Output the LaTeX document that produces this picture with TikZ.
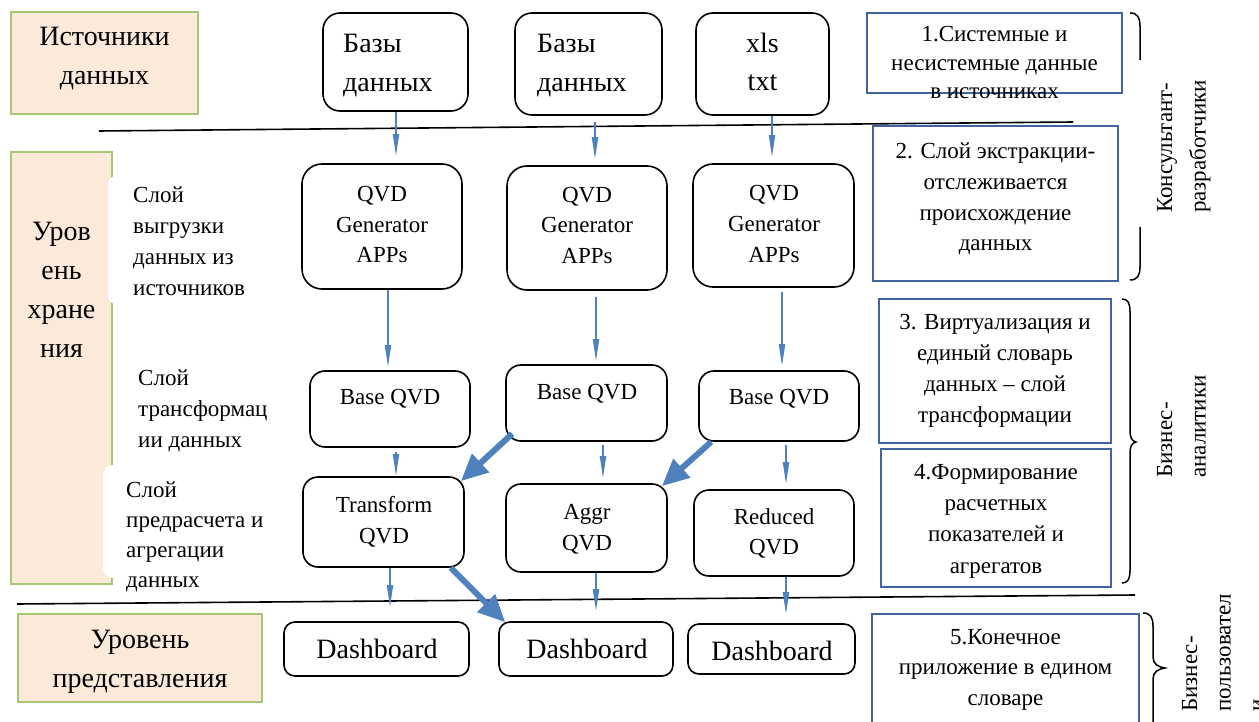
\documentclass[tikz,border=0pt]{standalone}
\usepackage{fontspec}
\setmainfont{Liberation Serif}
\usetikzlibrary{arrows.meta}
\definecolor{arrblue}{RGB}{79,129,189}
\definecolor{frameblue}{RGB}{65,100,160}
\definecolor{beige}{RGB}{251,233,218}
\definecolor{leafgreen}{RGB}{165,198,115}
\newcommand\fbig{\fontsize{28}{39}\selectfont}
\newcommand\fsmall{\fontsize{23}{31}\selectfont}
\begin{document}
\begin{tikzpicture}[x=1pt,y=-1pt,
  box/.style={draw=black, line width=1.6pt, rounded corners=#1, inner sep=0pt},
  box/.default=15pt,
  lvl/.style={draw=leafgreen, fill=beige, line width=1.8pt, inner sep=0pt},
  note/.style={draw=frameblue, line width=1.4pt, inner sep=0pt},
  bigtxt/.style={font=\fbig, align=center, inner sep=0pt, anchor=base},
  smalltxt/.style={font=\fsmall, align=center, inner sep=0pt, anchor=base},
  layertxt/.style={font=\fsmall, align=left, inner sep=0pt, anchor=base west},
  sidetxt/.style={font=\fontsize{23}{33.5}\selectfont, align=left, inner sep=0pt, anchor=base west, rotate=90},
  thinarr/.style={draw=arrblue, line width=1.8pt, -{Triangle[length=22pt,width=6pt]}},
  thickarr/.style={draw=arrblue, line width=6pt, -{Triangle[length=27pt,width=24pt]}},
  sepline/.style={draw=black, line width=1.6pt},
  brace/.style={draw=black, line width=1.5pt}
]
\useasboundingbox (0,0) rectangle (1259,722);
\clip (0,0) rectangle (1259,722);
\fill[white] (0,0) rectangle (1259,722);

% left level boxes
\node[lvl, minimum width=187pt, minimum height=102pt] (S1) at (104.5,63) {};
\node[lvl, minimum width=101pt, minimum height=432pt] (S2) at (61.5,368) {};
\node[lvl, minimum width=244pt, minimum height=88pt] (S3) at (140,658) {};
\fill[white, rounded corners=10pt] (108,175) rectangle (290,305);
\fill[white, rounded corners=10pt] (103,465) rectangle (290,578);

% (anchor = baseline of the last line)
\node[bigtxt] (tS1) at (104.5,85) {Источники\\данных};
\node[bigtxt] (tS2) at (61.5,357) {Уров\\ень\\хране\\ния};
\node[bigtxt] (tS3) at (140,687) {Уровень\\представления};

\node[layertxt] (L1) at (133,295) {Слой\\выгрузки\\данных из\\источников};
\node[layertxt] (L2) at (138,447) {Слой\\трансформац\\ии данных};
\node[layertxt, font=\fontsize{23}{30}\selectfont] (L3) at (126,587) {Слой\\предрасчета и\\агрегации\\данных};

% separators
\coordinate (s1a) at (99,131);
\coordinate (s1b) at (1073,122);
\coordinate (s2a) at (17,604);
\coordinate (s2b) at (1135,595);
\draw[sepline] (s1a) -- (s1b);
\draw[sepline] (s2a) -- (s2b);

% flow boxes
\node[box=17pt, minimum width=145pt, minimum height=98pt] (A1) at (395.5,62) {};
\node[box=17pt, minimum width=147pt, minimum height=102pt] (A2) at (588.5,64) {};
\node[box=17pt, minimum width=133pt, minimum height=102pt] (A3) at (762.5,64) {};
\node[box=20pt, minimum width=160pt, minimum height=125pt] (G1) at (382,226.5) {};
\node[box=20pt, minimum width=160pt, minimum height=124pt] (G2) at (587,228) {};
\node[box=20pt, minimum width=161pt, minimum height=123pt] (G3) at (773.5,225.5) {};
\node[box=15pt, minimum width=160pt, minimum height=76pt] (B1) at (390,409) {};
\node[box=15pt, minimum width=161pt, minimum height=76pt] (B2) at (586.5,403) {};
\node[box=15pt, minimum width=160pt, minimum height=70pt] (B3) at (779,406) {};
\node[box=15pt, minimum width=161pt, minimum height=90pt] (T1) at (383.5,522) {};
\node[box=15pt, minimum width=161pt, minimum height=88pt] (T2) at (586.5,528) {};
\node[box=15pt, minimum width=160pt, minimum height=86pt] (T3) at (774,533) {};
\node[box=11pt, minimum width=185pt, minimum height=54pt] (D1) at (376.5,649) {};
\node[box=11pt, minimum width=174pt, minimum height=54pt] (D2) at (586,649) {};
\node[box=11pt, minimum width=167pt, minimum height=50pt] (D3) at (771.5,649) {};

\node[layertxt, font=\fbig] (tA1) at (343,92) {Базы\\данных};
\node[layertxt, font=\fbig] (tA2) at (537,92) {Базы\\данных};
\node[bigtxt, font=\fontsize{28}{38}\selectfont] (tA3) at (762.5,91) {xls\\txt};
\node[smalltxt] (tG1) at (382,263) {QVD\\Generator\\APPs};
\node[smalltxt] (tG2) at (587,264) {QVD\\Generator\\APPs};
\node[smalltxt] (tG3) at (774,262) {QVD\\Generator\\APPs};
\node[smalltxt] (tB1) at (390,404) {Base QVD};
\node[smalltxt] (tB2) at (587,399) {Base QVD};
\node[smalltxt] (tB3) at (779,404) {Base QVD};
\node[smalltxt] (tT1) at (384,543) {Transform\\QVD};
\node[smalltxt] (tT2) at (587,550) {Aggr\\QVD};
\node[smalltxt, font=\fontsize{23}{30}\selectfont] (tT3) at (774,554) {Reduced\\QVD};
\node[bigtxt] (tD1) at (377,658) {Dashboard};
\node[bigtxt] (tD2) at (587,658) {Dashboard};
\node[bigtxt] (tD3) at (772,660) {Dashboard};

% right notes
\node[note, minimum width=255pt, minimum height=80pt] (R1) at (994.5,53) {};
\node[note, minimum width=245pt, minimum height=155pt] (R2) at (995.5,203.5) {};
\node[note, minimum width=232pt, minimum height=144pt] (R3) at (995,371) {};
\node[note, minimum width=230pt, minimum height=138pt] (R4) at (996,518) {};
\node[note, minimum width=267pt, minimum height=116pt] (R5) at (1005.5,672) {};

\node[smalltxt, font=\fontsize{23}{28.5}\selectfont] (tR1) at (994.5,99) {1.Системные и\\несистемные данные\\в источниках};
\node[smalltxt, font=\fontsize{23}{30.7}\selectfont] (tR2) at (995.5,251) {2. Слой экстракции-\\отслеживается\\происхождение\\данных};
\node[smalltxt] (tR3) at (995,422) {3. Виртуализация и\\единый словарь\\данных – слой\\трансформации};
\node[smalltxt, font=\fontsize{23}{31.3}\selectfont] (tR4) at (996,573) {4.Формирование\\расчетных\\показателей и\\агрегатов};
\node[smalltxt, font=\fontsize{23}{30.5}\selectfont] (tR5) at (1005.5,705) {5.Конечное\\приложение в едином\\словаре};

% braces
\draw[brace] (1130,13) .. controls (1137,13) and (1140,17) .. (1140,26) -- (1140,60);
\draw[brace] (1140,227) -- (1140,267) .. controls (1140,276) and (1137,280) .. (1130,280);
\draw[brace] (1122,299) .. controls (1128,299) and (1130,303) .. (1130,312) -- (1130,431)
  .. controls (1130,438) and (1132,441) .. (1136,442)
  .. controls (1132,443) and (1130,446) .. (1130,453) -- (1130,570)
  .. controls (1130,579) and (1128,583) .. (1122,583);
\draw[brace] (1143,613) .. controls (1150,613) and (1153,617) .. (1153,626) -- (1153,657)
  .. controls (1153,664) and (1158,667) .. (1165,668)
  .. controls (1158,669) and (1153,672) .. (1153,679) -- (1153,722);

\node[sidetxt] (K) at (1205.5,213) {Консультант-\\разработчики};
\node[sidetxt] (BA) at (1205.5,478) {Бизнес-\\аналитики};
\node[sidetxt] (BP) at (1264,712) {Бизнес-\\пользовател\\и};

% arrow x positions
\coordinate (x1) at (396,0);
\coordinate (x2) at (595,0);
\coordinate (x3) at (772,0);
\coordinate (x4) at (388,0);
\coordinate (x5) at (596,0);
\coordinate (x6) at (782,0);
\coordinate (x7) at (396,0);
\coordinate (x8) at (603,0);
\coordinate (x9) at (786,0);
\coordinate (x10) at (390,0);

\draw[thinarr, shorten >=7pt] (A1.south -| x1) -- (G1.north -| x1);
\draw[thinarr, shorten <=6pt, shorten >=6pt] (A2.south -| x2) -- (G2.north -| x2);
\draw[thinarr, shorten >=6pt] (A3.south -| x3) -- (G3.north -| x3);
\draw[thinarr, shorten >=3pt] (G1.south -| x4) -- (B1.north -| x4);
\draw[thinarr, shorten <=6pt, shorten >=3pt] (G2.south -| x5) -- (B2.north -| x5);
\draw[thinarr, shorten <=4pt, shorten >=4pt] (G3.south -| x6) -- (B3.north -| x6);
\draw[thinarr, shorten <=4pt] (B1.south -| x7) -- (T1.north -| x7);
\draw[thinarr, shorten <=3pt, shorten >=5pt] (B2.south -| x8) -- (T2.north -| x8);
\draw[thinarr, shorten <=3pt, shorten >=5pt] (B3.south -| x9) -- (T3.north -| x9);
\draw[thinarr, shorten >=14pt] (T1.south -| x10) -- (D1.north -| x10);
\draw[thinarr, shorten >=10pt] (T2.south -| x5) -- (D2.north -| x5);
\draw[thinarr, shorten >=9pt] (T3.south -| x9) -- (D3.north -| x9);

\draw[thickarr] ([xshift=7pt,yshift=8pt]B2.south west) -- ([xshift=-4pt,yshift=-5pt]T1.north east);
\draw[thickarr] ([xshift=13pt]B3.south west) -- ([xshift=-6pt,yshift=-3pt]T2.north east);
\draw[thickarr] ([xshift=-14pt]T1.south east) -- ([xshift=7pt,yshift=-1pt]D2.north west);
\end{tikzpicture}
\end{document}
